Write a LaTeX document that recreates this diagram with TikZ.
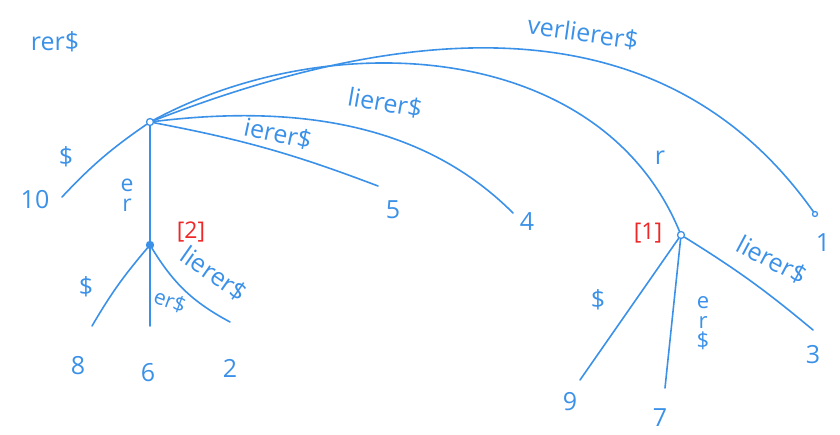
\documentclass[tikz,border=0pt]{standalone}
\usepackage{fontspec}
\setmainfont{Open Sans}
\usetikzlibrary{positioning}
\definecolor{pen}{RGB}{59,145,232}
\definecolor{redpen}{RGB}{238,40,40}

\begin{document}
\begin{tikzpicture}[x=1pt, y=-1pt, pen, line width=1.6pt, line cap=round,
  split/.style={draw, circle, inner sep=0pt, minimum size=7pt, line width=1.3pt},
  num/.style={font=\fontsize{25}{25}\selectfont},
  lab/.style={font=\fontsize{25}{25}\selectfont, inner sep=0pt},
  idx/.style={text=redpen, font=\fontsize{23}{23}\selectfont, inner sep=1pt}]
\useasboundingbox (0,0) rectangle (840,435);

% inner nodes
\node (root) [split, minimum width=11pt, minimum size=7pt] at (150,122) {};
\node (splitB) [split, fill] at (150,245) {};
\node (splitA) [split] at (681,235) {};
\node (end1) [split, minimum size=5pt] at (815,214) {};
\node (idxB) [idx] at (191,232) {[2]};
\node (idxA) [idx] at (648,233) {[1]};

% edge ends
\coordinate (end10) at (62,197);
\coordinate (end5) at (378,186);
\coordinate (end4) at (513,213);
\coordinate (end8) at (92,326);
\coordinate (end6) at (150,326);
\coordinate (end2) at (230,322);
\coordinate (end9) at (580,380);
\coordinate (end7) at (665,388);
\coordinate (end3) at (813,330);

% leaf numbers
\node (leaf10) [num] at (35,200) {10};
\node (leaf5) [num] at (393,210) {5};
\node (leaf4) [num] at (527,222) {4};
\node (leaf1) [num] at (823,243) {1};
\node (leaf8) [num] at (78,366) {8};
\node (leaf6) [num] at (148,373) {6};
\node (leaf2) [num] at (230,368) {2};
\node (leaf9) [num] at (570,402) {9};
\node (leaf7) [num] at (660,418) {7};
\node (leaf3) [num] at (813,355) {3};

% edges from the root
\draw (root) to[bend right=6] (end10);
\draw (root) -- (splitB);
\draw (root) to[bend left=5] (end5);
\draw (root) .. controls (330,100) and (440,140) .. (end4);
\draw (root) .. controls (330,25) and (600,40) .. (splitA);
\draw (root) .. controls (400,25) and (660,-5) .. (end1);

% edges below [2] and [1]
\draw (splitB) to[bend right=5] (end8);
\draw (splitB) -- (end6);
\draw (splitB) to[bend right=15] (end2);
\draw (splitA) -- (end9);
\draw (splitA) -- (end7);
\draw (splitA) to[bend left=4] (end3);

% edge labels
\node (word) [lab] at (55,42) {rer\$};
\node (labA) [lab] at (66,157) {\$};
\node (labB) [lab, align=center, font=\fontsize{23}{20}\selectfont] at (127,195) {e\\r};
\node (labC) [lab, rotate=-12] at (278,134) {ierer\$};
\node (labD) [lab, rotate=-10] at (385,103) {lierer\$};
\node (labE) [lab, rotate=-8] at (583,33) {verlierer\$};
\node (labF) [lab] at (660,158) {r};
\node (labG) [lab] at (86,287) {\$};
\node (labH) [lab, rotate=-20, font=\fontsize{21}{21}\selectfont] at (170,301) {er\$};
\node (labI) [lab, rotate=-35] at (214,274) {lierer\$};
\node (labJ) [lab] at (598,300) {\$};
\node (labK) [lab, align=center, font=\fontsize{22}{20}\selectfont] at (703,323) {e\\r\\\$};
\node (labL) [lab, rotate=-28] at (772,260) {lierer\$};
\end{tikzpicture}
\end{document}
